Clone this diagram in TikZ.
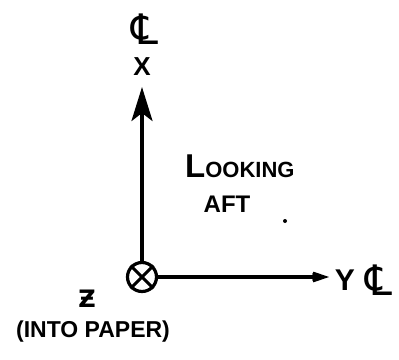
\documentclass[tikz,border=0pt]{standalone}
\usepackage{fontspec}
\setmainfont{Liberation Sans}
\newfontfamily\symfont{DejaVu Sans}
\usetikzlibrary{arrows.meta}

\begin{document}
\begin{tikzpicture}[x=1pt, y=-1pt,
  axis/.style={line width=3.6pt},
  lbl/.style={inner sep=0pt, font=\bfseries\fontsize{26}{30}\selectfont},
  cl/.style={inner sep=0pt, font=\symfont\fontsize{42}{46}\selectfont}]
  \useasboundingbox (0,0) rectangle (399,359);
  % origin: Z axis into the paper
  \node[circle, draw, minimum size=29pt, inner sep=0pt, line width=3.2pt] (origin) at (142,277) {};
  \draw[line width=3pt] (origin.north west) -- (origin.south east)
    (origin.north east) -- (origin.south west);
  % axes
  \coordinate (xtip) at (142,87);
  \coordinate (ytip) at (329,277);
  \draw[axis, -{Stealth[length=34pt, width=21pt, inset=8pt]}] (origin) -- (xtip);
  \draw[axis, -{Stealth[length=32pt, width=22pt, inset=20pt]}] (origin) -- (ytip);
  % labels
  \node[lbl] (xlab) at (142,67) {X};
  \node[cl] (xcl) at (145,29) {\char"2104};
  \node[lbl, font=\bfseries\fontsize{30}{34}\selectfont] (ylab) at (345,280) {Y};
  \node[cl] (ycl) at (379,280) {\char"2104};
  \node[lbl, font=\symfont\bfseries\fontsize{24}{26}\selectfont] (zlab) at (87,299) {Ƶ};
  \node[lbl, font=\bfseries\fontsize{23}{28}\selectfont] (zsub) at (93,332) {(INTO PAPER)};
  \node[lbl, font=\bfseries\fontsize{22}{26}\selectfont, anchor=base west] (look) at (185,177)
    {{\fontsize{33}{36}\selectfont L}OOKING};
  \node[lbl, font=\bfseries\fontsize{24}{28}\selectfont] (aft) at (227,204) {AFT};
  \fill (285,221) circle (2pt);
\end{tikzpicture}
\end{document}
